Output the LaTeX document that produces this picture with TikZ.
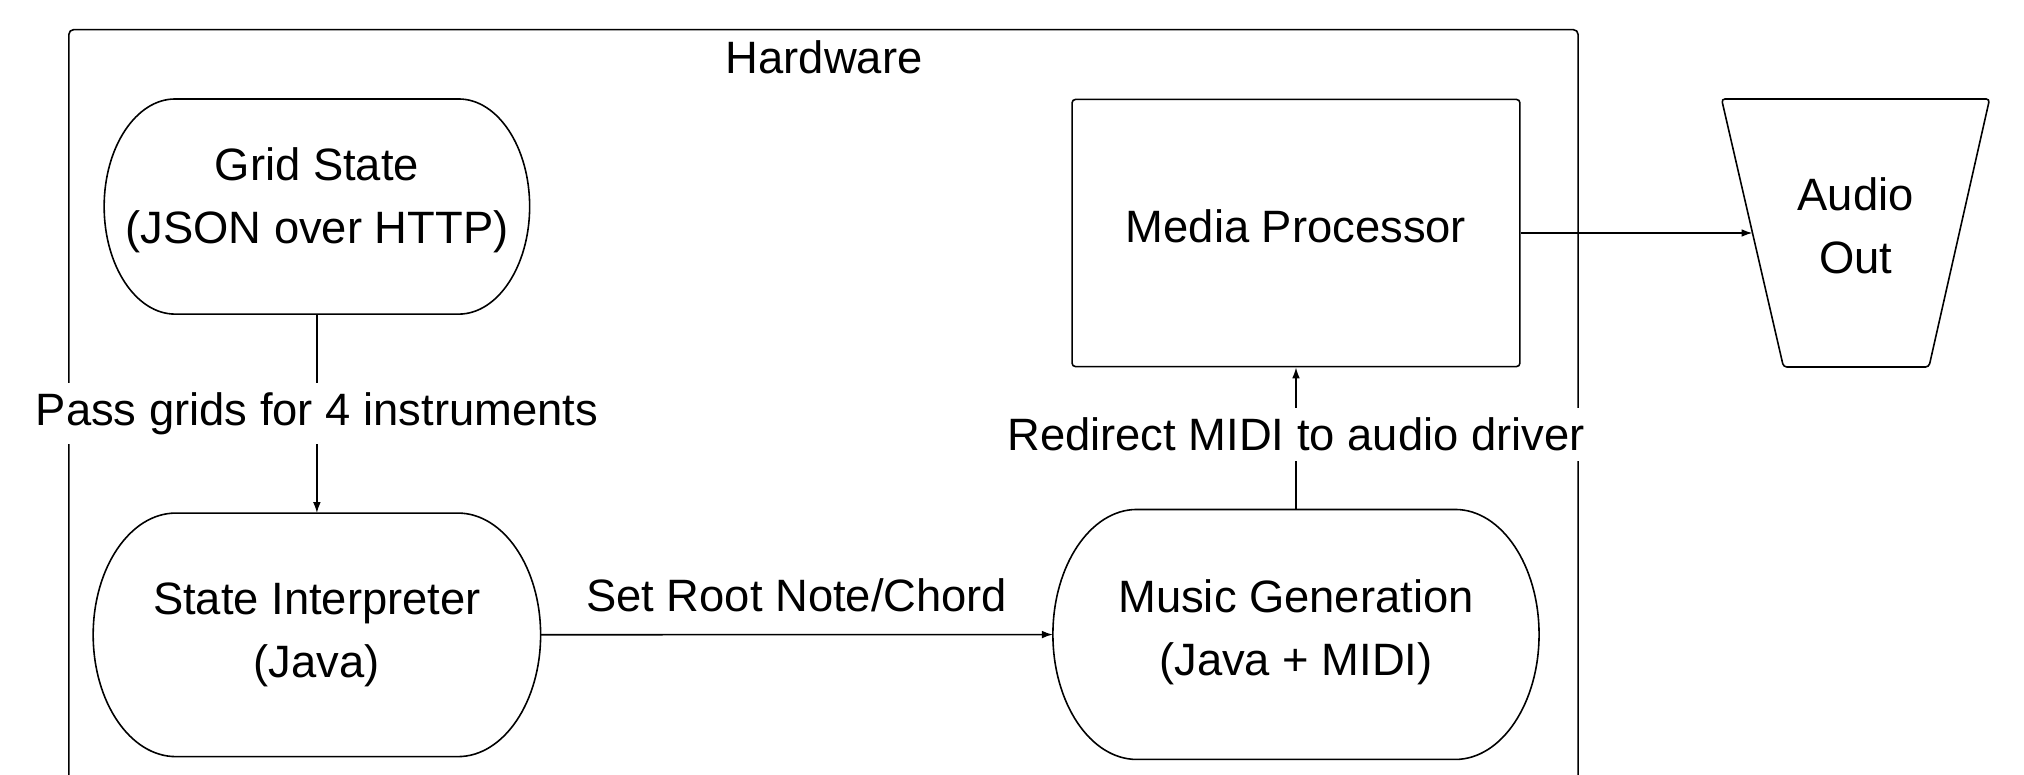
\documentclass[tikz,border=0pt]{standalone}
\usepackage{fontspec}
\setmainfont{Liberation Sans}
\usetikzlibrary{calc,arrows.meta}

\begin{document}
\begin{tikzpicture}[x=0.02cm, y=-0.02cm,
  every node/.style={font=\fontsize{20}{27.6}\selectfont},
  line/.style={draw=black, line width=0.7pt},
  flow/.style={line, -{Latex[length=0.17cm,width=0.12cm]}},
  blob/.style={inner sep=0pt, align=center},
  edgelabel/.style={fill=white, inner sep=0.15cm},
]
\clip (0,0) rectangle (1568,600);

% hardware boundary (open at the bottom)
\draw[line, rounded corners=2pt] (53.4,640) -- (53.4,23) -- (1222.5,23) -- (1222.5,640);
\node (hw) at (638.4,44) {Hardware};

% process nodes
\node[blob, text depth=9.5pt, minimum width=6.58cm, minimum height=3.32cm] (gs) at (245.5,160) {Grid State\\(JSON over HTTP)};
\node[blob, minimum width=6.92cm, minimum height=3.76cm] (si) at (245.5,491.8) {State Interpreter\\(Java)};
\node[blob, text depth=6pt, minimum width=7.52cm, minimum height=3.86cm] (mg) at (1004,491.5) {Music Generation\\(Java + MIDI)};
\node[blob, draw, line width=0.7pt, rounded corners=1.5pt, text depth=6.5pt,
      minimum width=6.94cm, minimum height=4.14cm] (mp) at (1004,180.5) {Media Processor};
\node[blob, text depth=6.5pt, minimum width=4.14cm, minimum height=4.14cm] (ao) at (1437.5,180.5) {Audio\\Out};

% bulging-side outlines of the process nodes
\foreach \n/\rx/\ry in {gs/55/83, si/64/94, mg/65/96.5} {
  \draw[line] ($(\n.north west)+(\rx,0)$) -- ($(\n.north east)+(-\rx,0)$)
    .. controls ($(\n.north east)+(-0.4477*\rx,0)$) and ($(\n.east)+(0,-0.5523*\ry)$) .. (\n.east)
    .. controls ($(\n.east)+(0,0.5523*\ry)$) and ($(\n.south east)+(-0.4477*\rx,0)$) .. ($(\n.south east)+(-\rx,0)$)
    -- ($(\n.south west)+(\rx,0)$)
    .. controls ($(\n.south west)+(0.4477*\rx,0)$) and ($(\n.west)+(0,0.5523*\ry)$) .. (\n.west)
    .. controls ($(\n.west)+(0,-0.5523*\ry)$) and ($(\n.north west)+(0.4477*\rx,0)$) .. ($(\n.north west)+(\rx,0)$)
    -- cycle;
}

% audio output: trapezoid, wide side on top
\draw[line, rounded corners=1.5pt] (ao.north west) -- (ao.north east)
  -- ($(ao.south east)+(-47,0)$) -- ($(ao.south west)+(48,0)$) -- cycle;
\coordinate (aoin) at ($(ao.west)+(24,0)$);

% connectors
\draw[flow] (gs) -- node[edgelabel, midway] (l1) {Pass grids for 4 instruments} (si);
\draw[flow] (si) -- node[midway, anchor=base, yshift=0.36cm] (l2) {Set Root Note/Chord} (mg);
\draw[flow] (mg) -- node[edgelabel, midway, yshift=0.06cm] (l3) {Redirect MIDI to audio driver} (mp);
\draw[flow] (mp.east) -- (aoin);
\end{tikzpicture}
\end{document}
